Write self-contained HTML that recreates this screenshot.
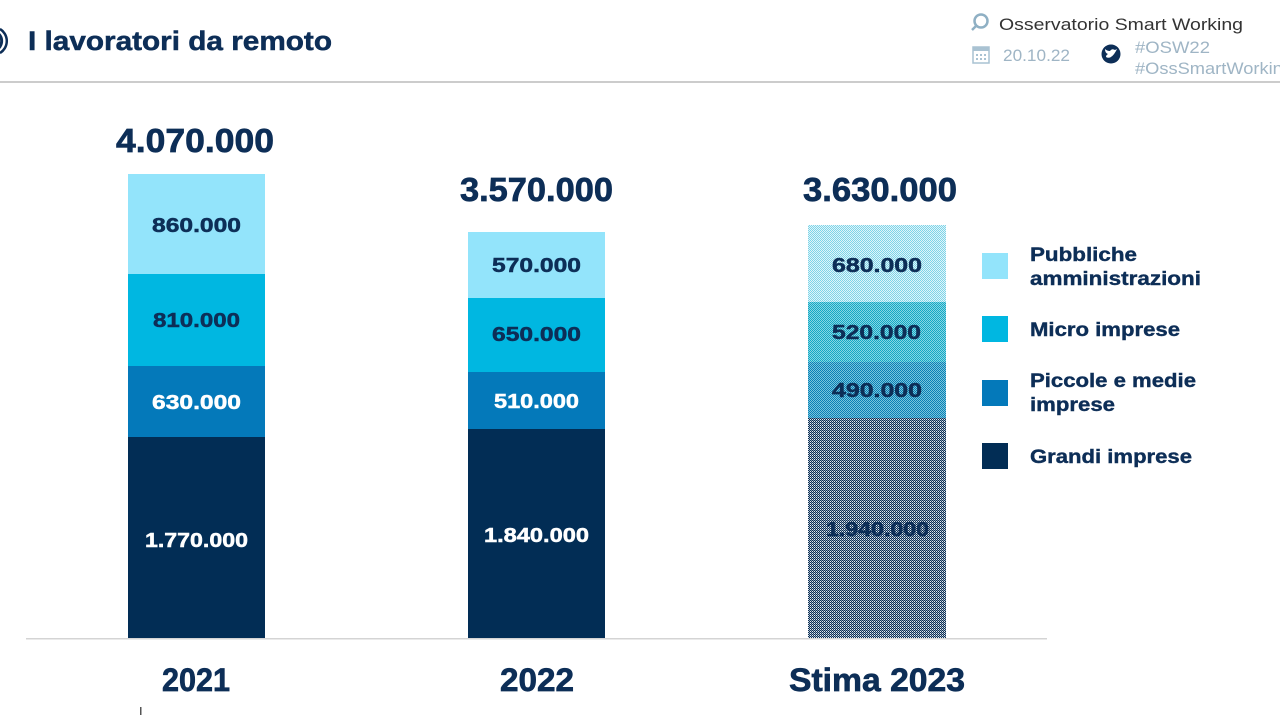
<!DOCTYPE html>
<html><head><meta charset="utf-8"><style>
html,body{margin:0;padding:0;background:#fff;}
svg{display:block;}
</style></head><body>
<svg width="1280" height="715" viewBox="0 0 1280 715" xmlns="http://www.w3.org/2000/svg" font-family="Liberation Sans, sans-serif">
<defs>
<pattern id="pPA" width="2" height="2" patternUnits="userSpaceOnUse"><rect width="2" height="2" fill="#e0f5fa"/><rect x="0" y="0" width="1" height="1" fill="#7ed4e8"/><rect x="1" y="1" width="1" height="1" fill="#7ed4e8"/></pattern>
<pattern id="pMI" width="2" height="2" patternUnits="userSpaceOnUse"><rect width="2" height="2" fill="#86d6e4"/><rect x="0" y="0" width="1" height="1" fill="#14a8c4"/><rect x="1" y="1" width="1" height="1" fill="#14a8c4"/></pattern>
<pattern id="pPM" width="2" height="2" patternUnits="userSpaceOnUse"><rect width="2" height="2" fill="#78c6dc"/><rect x="0" y="0" width="1" height="1" fill="#0a7fb6"/><rect x="1" y="1" width="1" height="1" fill="#0a7fb6"/></pattern>
<pattern id="pGR" width="2" height="2" patternUnits="userSpaceOnUse"><rect width="2" height="2" fill="#e6ebf0"/><rect x="0" y="0" width="1" height="1" fill="#0a2f55"/><rect x="1" y="1" width="1" height="1" fill="#0a2f55"/><rect x="1" y="0" width="1" height="1" fill="#8a9cb0"/></pattern>
</defs>

<!-- header -->
<path d="M-4 32 A10 10 0 0 1 -4 50" fill="none" stroke="#0d2e57" stroke-width="3"/>
<path d="M0 29 A14 14 0 0 1 0 53" fill="none" stroke="#0d2e57" stroke-width="2.5"/>
<text x="28" y="50" font-size="26.5" font-weight="bold" fill="#0d2e57" stroke="#0d2e57" stroke-width="0.5" textLength="304" lengthAdjust="spacingAndGlyphs">I lavoratori da remoto</text>
<rect x="0" y="81" width="1280" height="2" fill="#cccccc"/>

<circle cx="981" cy="21" r="6.5" fill="none" stroke="#8fb0c4" stroke-width="2.5"/>
<path d="M976 26 L972 30" stroke="#8fb0c4" stroke-width="2.5"/>
<text x="999" y="30" font-size="17" fill="#333" textLength="244" lengthAdjust="spacingAndGlyphs">Osservatorio Smart Working</text>
<rect x="973" y="47" width="16" height="16" fill="none" stroke="#a9c2d2" stroke-width="1.5"/>
<rect x="973" y="47" width="16" height="4" fill="#a9c2d2"/>
<g fill="#a9c2d2"><rect x="976" y="54" width="2" height="2"/><rect x="980" y="54" width="2" height="2"/><rect x="984" y="54" width="2" height="2"/><rect x="976" y="58" width="2" height="2"/><rect x="980" y="58" width="2" height="2"/><rect x="984" y="58" width="2" height="2"/></g>
<text x="1003" y="61" font-size="17" fill="#9fb5c5" textLength="67" lengthAdjust="spacingAndGlyphs">20.10.22</text>
<circle cx="1111" cy="54" r="9.5" fill="#0d2e57"/>
<path d="M1106 57 Q1111 60 1116 51 L1117 49 L1115 50 Q1112 48 1110 51 Q1107 51 1105 49 Q1105 53 1108 54 Q1106 55 1106 57 Z" fill="#fff"/>
<text x="1135" y="53" font-size="17" fill="#9fb5c5" textLength="75" lengthAdjust="spacingAndGlyphs">#OSW22</text>
<text x="1135" y="74" font-size="17" fill="#9fb5c5" textLength="158" lengthAdjust="spacingAndGlyphs">#OssSmartWorking</text>

<!-- baseline -->
<rect x="26" y="638" width="1021" height="1.5" fill="#d4d4d4"/>
<rect x="140" y="707" width="1.5" height="8" fill="#555"/>

<!-- Bar 2021 -->
<rect x="128" y="174" width="137" height="100" fill="#93e4fb"/>
<rect x="128" y="274" width="137" height="92" fill="#00b7e1"/>
<rect x="128" y="366" width="137" height="71" fill="#0479ba"/>
<rect x="128" y="437" width="137" height="201" fill="#022d55"/>
<!-- Bar 2022 -->
<rect x="468" y="232" width="137" height="66" fill="#93e4fb"/>
<rect x="468" y="298" width="137" height="74" fill="#00b7e1"/>
<rect x="468" y="372" width="137" height="57" fill="#0479ba"/>
<rect x="468" y="429" width="137" height="209" fill="#022d55"/>
<!-- Bar 2023 -->
<rect x="808" y="225" width="138" height="77" fill="url(#pPA)"/>
<rect x="808" y="302" width="138" height="60" fill="url(#pMI)"/>
<rect x="808" y="362" width="138" height="56" fill="url(#pPM)"/>
<rect x="808" y="418" width="138" height="220" fill="url(#pGR)"/>

<!-- totals -->
<g font-size="33" font-weight="bold" fill="#0d2e57" stroke="#0d2e57" stroke-width="0.7">
<text x="116" y="152" textLength="158" lengthAdjust="spacingAndGlyphs">4.070.000</text>
<text x="460" y="201" textLength="153" lengthAdjust="spacingAndGlyphs">3.570.000</text>
<text x="803" y="201" textLength="154" lengthAdjust="spacingAndGlyphs">3.630.000</text>
</g>

<!-- segment labels -->
<g font-size="20" font-weight="bold" stroke-width="0.5">
<text x="152" y="232" fill="#0d2e57" stroke="#0d2e57" textLength="89" lengthAdjust="spacingAndGlyphs">860.000</text>
<text x="153" y="327" fill="#0d2e57" stroke="#0d2e57" textLength="87" lengthAdjust="spacingAndGlyphs">810.000</text>
<text x="152" y="409" fill="#ffffff" stroke="#ffffff" textLength="89" lengthAdjust="spacingAndGlyphs">630.000</text>
<text x="145" y="547" fill="#ffffff" stroke="#ffffff" textLength="103" lengthAdjust="spacingAndGlyphs">1.770.000</text>

<text x="492" y="272" fill="#0d2e57" stroke="#0d2e57" textLength="89" lengthAdjust="spacingAndGlyphs">570.000</text>
<text x="492" y="341" fill="#0d2e57" stroke="#0d2e57" textLength="89" lengthAdjust="spacingAndGlyphs">650.000</text>
<text x="494" y="408" fill="#ffffff" stroke="#ffffff" textLength="85" lengthAdjust="spacingAndGlyphs">510.000</text>
<text x="484" y="542" fill="#ffffff" stroke="#ffffff" textLength="105" lengthAdjust="spacingAndGlyphs">1.840.000</text>

<text x="832" y="272" fill="#0d2e57" stroke="#0d2e57" textLength="90" lengthAdjust="spacingAndGlyphs">680.000</text>
<text x="832" y="339" fill="#0d2e57" stroke="#0d2e57" textLength="89" lengthAdjust="spacingAndGlyphs">520.000</text>
<text x="832" y="397" fill="#0d2e57" stroke="#0d2e57" textLength="90" lengthAdjust="spacingAndGlyphs">490.000</text>
<text x="826" y="536" fill="#0d2e57" stroke="#0d2e57" textLength="103" lengthAdjust="spacingAndGlyphs">1.940.000</text>
</g>

<!-- year labels -->
<g font-size="32" font-weight="bold" fill="#0d2e57" stroke="#0d2e57" stroke-width="0.7">
<text x="162" y="691" textLength="68" lengthAdjust="spacingAndGlyphs">2021</text>
<text x="500" y="691" textLength="74" lengthAdjust="spacingAndGlyphs">2022</text>
<text x="789" y="691" textLength="176" lengthAdjust="spacingAndGlyphs">Stima 2023</text>
</g>

<!-- legend -->
<rect x="982" y="253" width="26" height="26" fill="#93e4fb"/>
<rect x="982" y="316" width="26" height="26" fill="#00b7e1"/>
<rect x="982" y="380" width="26" height="26" fill="#0479ba"/>
<rect x="982" y="443" width="26" height="26" fill="#022d55"/>
<g font-size="19" font-weight="bold" fill="#0d2e57" stroke="#0d2e57" stroke-width="0.4">
<text x="1030" y="261" textLength="107" lengthAdjust="spacingAndGlyphs">Pubbliche</text>
<text x="1030" y="285" textLength="171" lengthAdjust="spacingAndGlyphs">amministrazioni</text>
<text x="1030" y="336" textLength="150" lengthAdjust="spacingAndGlyphs">Micro imprese</text>
<text x="1030" y="387" textLength="166" lengthAdjust="spacingAndGlyphs">Piccole e medie</text>
<text x="1030" y="411" textLength="85" lengthAdjust="spacingAndGlyphs">imprese</text>
<text x="1030" y="463" textLength="162" lengthAdjust="spacingAndGlyphs">Grandi imprese</text>
</g>
</svg>
</body></html>
